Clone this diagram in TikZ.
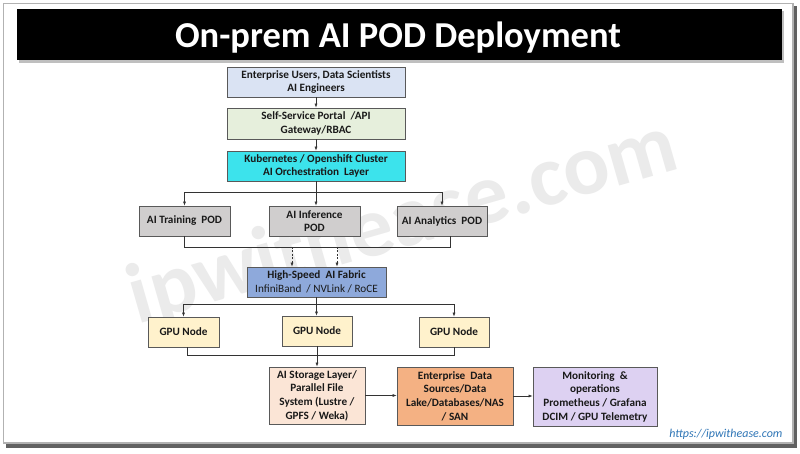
\documentclass[tikz,border=0pt]{standalone}
\usepackage{fontspec}
\setmainfont{Carlito}
\usetikzlibrary{arrows.meta}
\definecolor{cusers}{HTML}{DAE3F3}
\definecolor{cportal}{HTML}{E6EFDC}
\definecolor{ck8s}{HTML}{3CE3EC}
\definecolor{cpod}{HTML}{D0CECE}
\definecolor{cfabric}{HTML}{8EA9DB}
\definecolor{cgpu}{HTML}{FFF2CC}
\definecolor{cstor}{HTML}{FBE5D6}
\definecolor{cent}{HTML}{F4B183}
\definecolor{cmon}{HTML}{DDD1F2}
\definecolor{curl}{HTML}{2E75B6}
\begin{document}
\begin{tikzpicture}[x=1pt,y=-1pt,
  bx/.style={draw=black!65, line width=0.7pt, inner sep=0.5pt, align=center,
    font=\fontsize{11.2}{13.7}\selectfont\bfseries, text=black!90},
  conn/.style={draw=black!80, line width=0.6pt},
  arr/.style={conn, -{Latex[length=4pt,width=3pt]}},
  darr/.style={arr, dashed, dash pattern=on 2pt off 1.5pt}]
\useasboundingbox (0,0) rectangle (800,454);
\fill[white] (0,0) rectangle (800,454);
% frame
\fill[black!62] (6,6) rectangle (797,448);
\fill[white] (3,3) rectangle (793,443);
\draw[black!30, line width=1.2pt] (3.6,3.6) rectangle (793,443);
% title bar
\fill[black!25] (19,11) rectangle (784,63);
\fill[black] (17,9) rectangle (782,60);
\node[anchor=base, text=white, font=\fontsize{36.5}{40}\selectfont\bfseries] (title) at (398,48) {On-prem AI POD Deployment};
% watermark
\node[rotate=16, anchor=base, text=black!8, font=\fontsize{86}{86}\selectfont\bfseries] (wm) at (410,246) {ipwithease.com};
% boxes
\node[bx, fill=cusers, minimum width=178pt, minimum height=30pt] (users) at (316,82) {Enterprise Users, Data Scientists\\AI Engineers};
\node[bx, fill=cportal, minimum width=178pt, minimum height=31pt] (portal) at (316,123.5) {Self-Service Portal~ /API\\Gateway/RBAC};
\node[bx, fill=ck8s, minimum width=178pt, minimum height=30pt] (k8s) at (316,166) {Kubernetes / Openshift Cluster\\AI Orchestration~ Layer};
\node[bx, fill=cpod, minimum width=91pt, minimum height=30pt] (train) at (184.5,221) {AI Training~ POD};
\node[bx, fill=cpod, minimum width=91pt, minimum height=30pt] (infer) at (314.5,221) {AI Inference\\POD};
\node[bx, fill=cpod, minimum width=90pt, minimum height=30pt] (anal) at (442,221) {AI Analytics~ POD};
\node[bx, fill=cfabric, minimum width=139pt, minimum height=30pt] (fabric) at (316.5,282) {High-Speed~ AI Fabric\\\mdseries InfiniBand~ / NVLink / RoCE};
\node[bx, fill=cgpu, minimum width=71pt, minimum height=30pt] (gpu1) at (183.5,332) {GPU Node};
\node[bx, fill=cgpu, minimum width=70pt, minimum height=30pt] (gpu2) at (317,331) {GPU Node};
\node[bx, fill=cgpu, minimum width=70pt, minimum height=30pt] (gpu3) at (454,332) {GPU Node};
\node[bx, fill=cstor, minimum width=96pt, minimum height=57pt] (stor) at (317,395.5) {AI Storage Layer/\\Parallel File\\System (Lustre /\\GPFS / Weka)};
\node[bx, fill=cent, minimum width=116pt, minimum height=58pt] (ent) at (455,396) {Enterprise~ Data\\Sources/Data\\Lake/Databases/NAS\\/ SAN};
\node[bx, fill=cmon, minimum width=124pt, minimum height=59pt] (mon) at (595,396.5) {Monitoring~ \&\\operations\\Prometheus / Grafana\\DCIM / GPU Telemetry};
\node[anchor=base east, text=curl, font=\fontsize{12}{14}\selectfont\itshape] (url) at (786,437) {https://ipwithease.com};
% connectors
\draw[arr] (users.south) -- (portal.north);
\draw[arr] (portal.south) -- (k8s.north);
\coordinate (b1) at (316,192);
\draw[conn] (k8s.south) -- (b1);
\draw[arr] (b1) -| (train.north);
\draw[arr] (b1) -| (anal.north);
\draw[arr] (b1) -- (b1 |- infer.north);
\coordinate (c2) at (450,247);
\draw[conn] (train.south) |- (c2) -- (c2 |- anal.south);
\coordinate (d1) at (292,247);
\coordinate (d2) at (337,247);
\draw[darr] (d1) -- (d1 |- fabric.north);
\draw[darr] (d2) -- (d2 |- fabric.north);
\coordinate (e1) at (316.5,304);
\draw[conn] (fabric.south) -- (e1);
\draw[arr] (e1) -| (gpu1.north);
\draw[arr] (e1) -| (gpu3.north);
\draw[arr] (e1) -- (e1 |- gpu2.north);
\coordinate (f1) at (187,355);
\coordinate (f2) at (454,355);
\draw[conn] (gpu1.south -| f1) -- (f1) -- (f2) -- (gpu3.south);
\draw[arr] (gpu2.south) -- (stor.north);
\draw[arr] (stor.east) -- (stor.east -| ent.west);
\draw[arr] (ent.east) -- (ent.east -| mon.west);
\end{tikzpicture}
\end{document}
